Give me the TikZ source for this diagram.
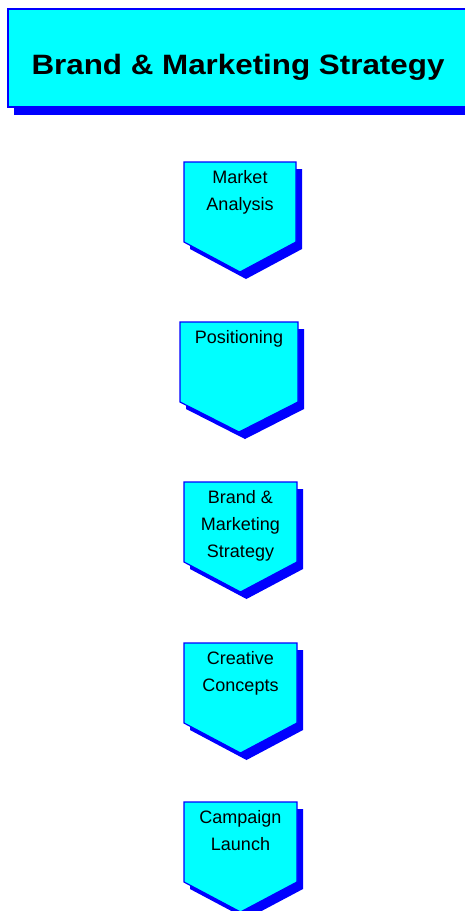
\documentclass[tikz,border=0pt]{standalone}
\usepackage{fontspec}
\setmainfont{Liberation Sans}
\definecolor{boxcyan}{RGB}{0,255,255}
\definecolor{boxblue}{RGB}{0,0,255}
\tikzset{
  shapefill/.style={fill=boxcyan, draw=boxblue, line width=1.2pt, line join=miter},
  shadowfill/.style={fill=boxblue},
  steptext/.style={anchor=north, align=center, inner sep=0pt, text=black,
    font={\fontsize{18}{27}\selectfont}},
  titletext/.style={anchor=base, inner sep=0pt, text=black, xscale=1.12,
    font={\fontsize{28}{32}\selectfont\bfseries}}
}
\newcommand\chevstep[5]{%
  \fill[shadowfill] (#2+6,#4+7) -- (#3+6,#4+7) -- (#3+6,#4+87) -- ({(#2+#3)/2+6},#4+117) -- (#2+6,#4+87) -- cycle;
  \draw[shapefill] (#2,#4) -- (#3,#4) -- (#3,#4+80) -- ({(#2+#3)/2},#4+110) -- (#2,#4+80) -- cycle;
  \node[steptext] (#1) at ({(#2+#3)/2},#4+8) {#5};
}
\begin{document}
\begin{tikzpicture}[x=1pt,y=-1pt]
\useasboundingbox (0,0) rectangle (465,911);
% title banner
\fill[shadowfill] (14,107) rectangle (465,115);
\fill[boxcyan] (8,9) rectangle (465,107);
\draw[boxblue, line width=1.2pt] (465,9) -- (8,9) -- (8,107) -- (465,107);
\node[titletext] (title) at (238,74) {Brand \& Marketing Strategy};
% steps
\chevstep{market}{184}{296}{162}{Market\\Analysis}
\chevstep{positioning}{180}{298}{322}{Positioning}
\chevstep{brand}{184}{297}{482}{Brand \&\\Marketing\\Strategy}
\chevstep{creative}{184}{297}{643}{Creative\\Concepts}
\chevstep{campaign}{184}{297}{802}{Campaign\\Launch}
\end{tikzpicture}
\end{document}
